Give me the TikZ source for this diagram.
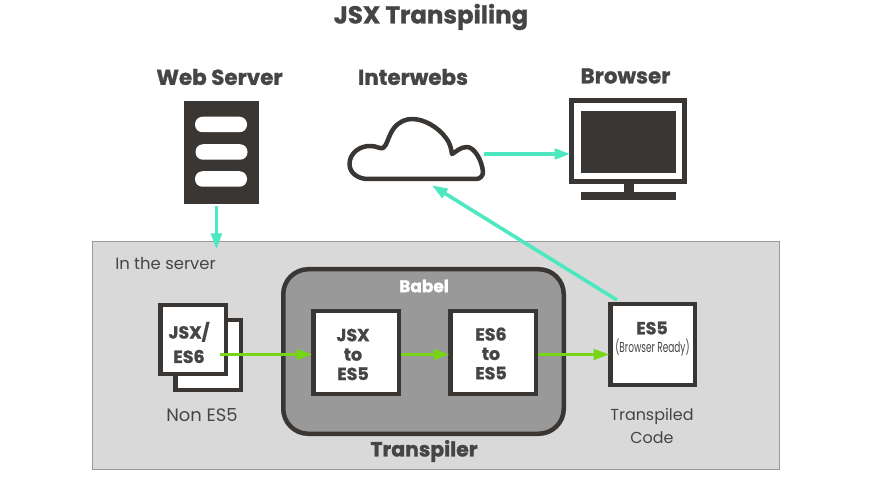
\documentclass[tikz,border=0pt]{standalone}
\usepackage{fontspec}
\setmainfont[BoldFeatures={FakeBold=1.2}]{Poppins}
\newfontfamily\narrowfont[FakeStretch=0.62]{Poppins}
\usetikzlibrary{arrows.meta}
\definecolor{darkcol}{HTML}{3A3634}
\definecolor{textcol}{HTML}{454545}
\definecolor{cyancol}{HTML}{4DE8C0}
\definecolor{greencol}{HTML}{76D615}
\tikzset{
  head/.style={text=textcol,font=\fontsize{21.5}{21.5}\selectfont\bfseries,inner sep=0pt},
  caption/.style={text=textcol,font=\fontsize{16.5}{24}\selectfont,inner sep=0pt,align=center},
  boxtext/.style={text=textcol,font=\fontsize{17.5}{19.5}\selectfont\bfseries,inner sep=0pt,align=center},
  pagebox/.style={draw=darkcol,fill=white,line width=4.5bp,inner sep=0pt},
  pill/.style={fill=white,rounded corners=7.5bp,inner sep=0pt,minimum width=52bp,minimum height=15.5bp},
  solid box/.style={fill=darkcol,inner sep=0pt},
  feed/.style={draw=cyancol,line width=3.6bp,shorten >=-1.5bp,-{Triangle[length=16bp,width=10.5bp]}},
  pass/.style={draw=greencol,line width=3.6bp,shorten >=-1.5bp,-{Triangle[length=16bp,width=10.5bp]}}
}
\begin{document}
\begin{tikzpicture}[x=1bp,y=-1bp]
  \useasboundingbox (0,0) rectangle (871,495);
  % Titles
  \node[head,font=\fontsize{24.5}{24.5}\selectfont\bfseries] (title) at (431,17) {JSX Transpiling};
  \node[head] (webtitle) at (219.5,77) {Web Server};
  \node[head] (nettitle) at (413,77) {Interwebs};
  \node[head] (browsertitle) at (625.5,76) {Browser};
  % Grey panel
  \node[draw=black!40,fill=black!15,line width=1bp,inner sep=0pt,minimum width=686.5bp,minimum height=227.5bp] (panel) at (435.75,355.25) {};
  \node[caption] (servertext) at (165.5,263) {In the server};
  % Server
  \node[solid box,minimum width=75bp,minimum height=103bp] (server) at (221.5,152.5) {};
  \node[pill] (pilla) at (221,124.5) {};
  \node[pill] (pillb) at (221.5,152) {};
  \node[pill] (pillc) at (221,179) {};
  % Cloud
  \draw[draw=darkcol,line width=4.5bp,line join=round,fill=white] (368,179)
    .. controls (358,179) and (349.5,173) .. (349.5,164)
    .. controls (349.5,153) and (360,145.5) .. (371,146)
    .. controls (376,146) and (380,149) .. (383,148)
    .. controls (387,146) and (388,136) .. (394,128)
    .. controls (399,122) and (405,119) .. (412,119)
    .. controls (424,119) and (438,127) .. (446,138)
    .. controls (450,143) and (451,148) .. (452,154)
    .. controls (456,152) and (460,147) .. (467,147)
    .. controls (474,147) and (482,160) .. (483,172)
    .. controls (483,176) and (480,179) .. (476,179) -- cycle;
  \coordinate (cloudright) at (484,154);
  \coordinate (cloudbottom) at (433,186);
  % Browser
  \node[draw=darkcol,fill=white,line width=5bp,inner sep=0pt,minimum width=113bp,minimum height=81bp] (screen) at (628,141) {};
  \node[solid box,minimum width=95bp,minimum height=62bp] (glass) at (628.5,142) {};
  \node[solid box,minimum width=10bp,minimum height=9bp] (stand) at (629,188) {};
  \node[solid box,minimum width=95bp,minimum height=8bp] (base) at (628.5,196) {};
  % Transpiler
  \node[draw=darkcol,fill=black!40,line width=4.5bp,rounded corners=25bp,inner sep=0pt,minimum width=280.5bp,minimum height=164.5bp] (transpiler) at (423.5,351.5) {};
  \node[head,text=white,font=\fontsize{17}{17}\selectfont\bfseries] (babel) at (424,286) {Babel};
  \node[head,font=\fontsize{20.5}{20.5}\selectfont\bfseries] (transpilertext) at (424,451) {Transpiler};
  % Source pages
  \node[pagebox,minimum width=65.5bp,minimum height=69.5bp] (pageback) at (208,355) {};
  \node[pagebox,minimum width=65.5bp,minimum height=68.5bp,text=textcol] (pagefront) at (193,339.5) {};
  \node[boxtext] (pagetext) at (189,342.5) {JSX/\\[5bp]ES6};
  \node[caption,font=\fontsize{18}{24}\selectfont] (nontext) at (202,415) {Non ES5};
  % Babel steps
  \node[pagebox,minimum width=85.5bp,minimum height=82.5bp] (jsxbox) at (356,352.5) {};
  \node[boxtext] (jsxtext) at (353,354.5) {JSX\\to\\ES5};
  \node[pagebox,minimum width=85.5bp,minimum height=82.5bp] (esbox) at (493,352.5) {};
  \node[boxtext] (estext) at (491,353.5) {ES6\\to\\ES5};
  % Result
  \node[pagebox,minimum width=84.5bp,minimum height=80.5bp] (result) at (652.5,344.5) {};
  \node[boxtext] (resulttext) at (652,328) {ES5};
  \node[text=textcol,inner sep=0pt,font=\narrowfont\fontsize{14.5}{14.5}\selectfont] (readytext) at (652.5,348) {(Browser Ready)};
  \node[caption,font=\fontsize{16}{24}\selectfont] (donetext) at (652,426) {Transpiled\\Code};
  % Connectors
  \coordinate (serverout) at (216.5,206);
  \coordinate (panelin) at (216.5,248);
  \coordinate (jsxout) at (220,354.5);
  \coordinate (resultout) at (617,300);
  \draw[feed] (serverout) -- (panelin);
  \draw[feed] (cloudright) -- (screen.west |- cloudright);
  \draw[feed] (resultout) -- (cloudbottom);
  \draw[pass] (jsxout) -- (jsxbox.west |- jsxout);
  \draw[pass] (jsxbox.east |- jsxout) -- (esbox.west |- jsxout);
  \draw[pass] (esbox.east |- jsxout) -- (result.west |- jsxout);
\end{tikzpicture}
\end{document}
